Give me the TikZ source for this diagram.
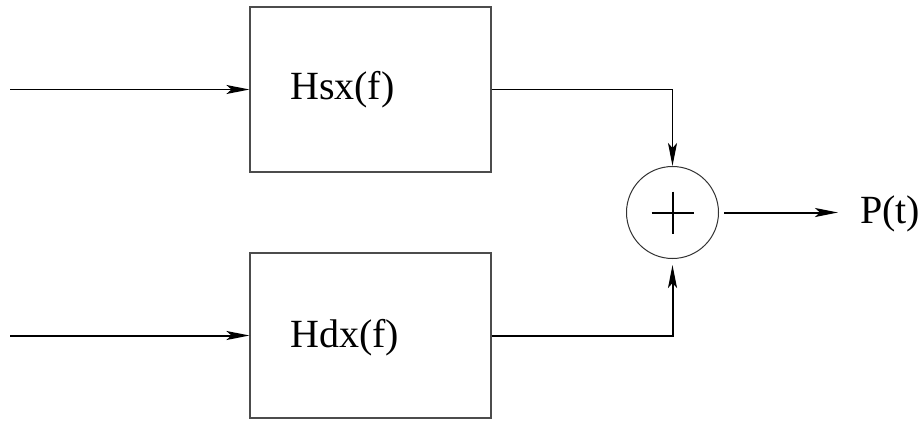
\documentclass[tikz,border=0pt]{standalone}
\usepackage{fontspec}
\setmainfont{Liberation Serif}
\newfontfamily\tnrfont{Liberation Serif}
\usetikzlibrary{arrows.meta}
\begin{document}
\begin{tikzpicture}[x=1pt,y=-1pt,
  blockbox/.style={draw=black!70,line width=1.1pt,minimum width=241pt,minimum height=165pt,inner sep=0pt},
  sumnode/.style={circle,draw=black!80,line width=1pt,minimum size=92pt,inner sep=0pt},
  wire/.style={line width=1.6pt},
  arr/.style={wire,-{Stealth[length=23pt,width=9pt,inset=5pt]}},
  lbl/.style={font=\tnrfont\fontsize{40}{40}\selectfont,inner sep=0pt,anchor=base west}]
\useasboundingbox (0,0) rectangle (923,423);
\node[blockbox] (b1) at (370.5,89.5) {};
\node[blockbox] (b2) at (370.5,335.5) {};
\node[lbl] (t1) at (290,99) {Hsx(f)};
\node[lbl] (t2) at (290,347) {Hdx(f)};
\node[sumnode] (s) at (672.5,212.5) {};
\coordinate (h1) at (651.5,212.5); \coordinate (h2) at (693.5,212.5);
\coordinate (v1) at (672.5,191.5); \coordinate (v2) at (672.5,233.5);
\draw[wire,line width=2pt] (h1) -- (h2);
\draw[wire,line width=2pt] (v1) -- (v2);
\coordinate (i1) at (10,89.5);
\coordinate (i2) at (10,335.5);
\coordinate (o) at (838,212.5);
\draw[arr,line width=1.4pt] (i1) -- (b1.west);
\draw[arr,line width=2pt] (i2) -- (b2.west);
\draw[arr] (b1.east) -| (s.north);
\draw[arr,line width=2pt,shorten >=6pt] (b2.east) -| (s.south);
\draw[arr,line width=2pt,shorten <=5pt] (s.east) -- (o);
\node[lbl] (pt) at (860,223) {P(t)};
\end{tikzpicture}
\end{document}
